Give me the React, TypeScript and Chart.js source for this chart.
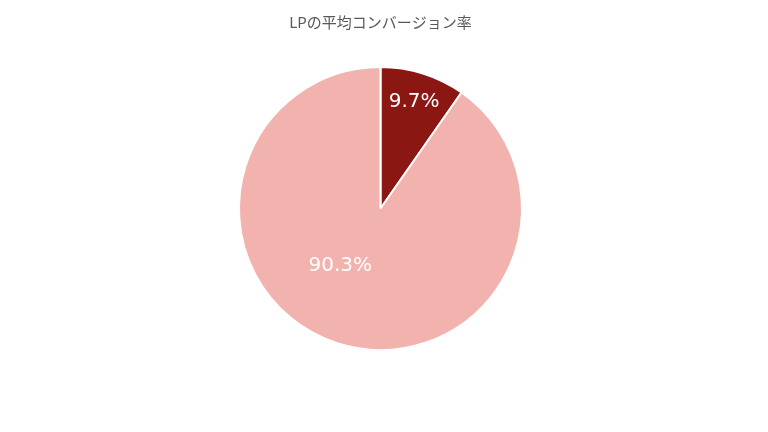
import { useEffect, useRef } from 'react';
import Chart from 'chart.js/auto';

// データ
const categories = ['コンバージョン', '非コンバージョン'];
const values = [9.7, 90.3];
const sliceColors = ['#8B1713', '#F2B3AF'];

const chartTitle = 'LPの平均コンバージョン率';

// ラベル位置 (中心からの比率, 半径単位)
const labelAnchors = [
    { x: 0.238, y: -0.752 },
    { x: -0.284, y: 0.404 },
];

const percentLabels = {
    id: 'percentLabels',
    afterDatasetsDraw(chart: any) {
        const ctx = chart.ctx;
        const meta = chart.getDatasetMeta(0);
        ctx.save();
        ctx.fillStyle = '#ffffff';
        ctx.font = '20px "DejaVu Sans", Verdana, sans-serif';
        ctx.textAlign = 'center';
        ctx.textBaseline = 'middle';
        meta.data.forEach((arc: any, i: number) => {
            const { x, y, outerRadius } = arc.getProps(['x', 'y', 'outerRadius'], true);
            const a = labelAnchors[i];
            const v = chart.data.datasets[0].data[i];
            ctx.fillText(v.toFixed(1) + '%', x + a.x * outerRadius, y + a.y * outerRadius);
        });
        ctx.restore();
    },
};

export default function App() {
    const canvasRef = useRef<HTMLCanvasElement>(null);

    useEffect(() => {
        document.body.style.margin = '0';
        let chart: any = null;
        if (canvasRef.current) {
            chart = new Chart(canvasRef.current as any, {
                type: 'pie',
                data: {
                    labels: categories,
                    datasets: [{
                        data: values,
                        backgroundColor: sliceColors,
                        borderColor: '#ffffff',
                        borderWidth: 2,
                    }],
                },
                options: {
                    responsive: false,
                    animation: false,
                    layout: { padding: { top: 0, bottom: 81, left: 0, right: 7 } },
                    plugins: {
                        legend: { display: false },
                        tooltip: { enabled: false },
                        title: {
                            display: true,
                            text: chartTitle,
                            color: '#595959',
                            font: { size: 15, weight: 'normal', family: '"Noto Sans CJK JP", sans-serif' },
                            padding: { top: 13, bottom: 35 },
                        },
                    },
                },
                plugins: [percentLabels],
            });
        }
        return () => {
            if (chart) chart.destroy();
        };
    }, []);

    return (
        <div style={{ position: 'fixed', left: 0, top: 0, width: '768px', height: '432px', background: '#fff' }}>
            <canvas ref={canvasRef} width={768} height={432}></canvas>
        </div>
    );
}
